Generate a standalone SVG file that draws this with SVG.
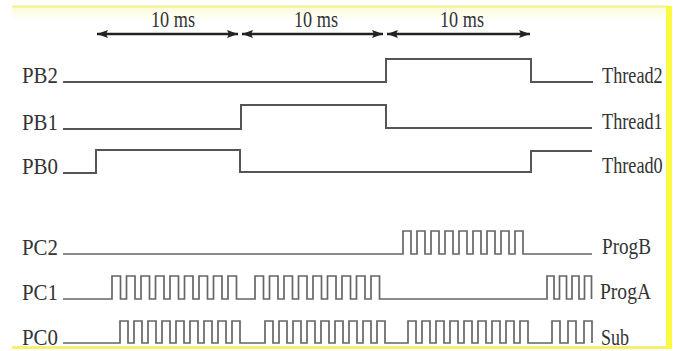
<svg xmlns="http://www.w3.org/2000/svg" width="680" height="351" viewBox="0 0 680 351">
<defs>
<linearGradient id="topband" x1="0" y1="0" x2="0" y2="1">
<stop offset="0" stop-color="#fbfbd8"/>
<stop offset="1" stop-color="#ffffff"/>
</linearGradient>
<marker id="ah" viewBox="0 0 11 8" refX="11" refY="4" markerWidth="11" markerHeight="8" markerUnits="userSpaceOnUse" orient="auto-start-reverse">
<path d="M0,0 L11,4 L0,8 L2,4 Z" fill="#222"/>
</marker>
<style>
.lbl{font-family:"Liberation Serif","Times New Roman",serif;font-size:24px;fill:#333;}
.sig{fill:none;stroke:#555;stroke-width:2;stroke-linejoin:miter;}
.pulse{fill:none;stroke:#666;stroke-width:1.7;stroke-linejoin:miter;}
.arr{stroke:#222;stroke-width:2.4;fill:none;}
</style>
</defs>
<rect width="680" height="351" fill="#ffffff"/>
<rect x="12" y="6" width="656" height="16" fill="url(#topband)"/>
<line x1="12" y1="6.5" x2="668" y2="6.5" stroke="#f3f08a" stroke-width="2"/>
<line x1="12" y1="347.5" x2="672" y2="347.5" stroke="#f5f070" stroke-width="3"/>
<rect x="666" y="6" width="6" height="343" fill="#fafa40"/>

<g id="scale">
<text class="lbl" x="151" y="27" textLength="44" lengthAdjust="spacingAndGlyphs">10 ms</text>
<text class="lbl" x="294" y="27" textLength="44" lengthAdjust="spacingAndGlyphs">10 ms</text>
<text class="lbl" x="440" y="27" textLength="44" lengthAdjust="spacingAndGlyphs">10 ms</text>
</g>

<g id="connectors">
<line class="arr" x1="97" y1="34" x2="238" y2="34" marker-start="url(#ah)" marker-end="url(#ah)"/>
<line class="arr" x1="242" y1="34" x2="383" y2="34" marker-start="url(#ah)" marker-end="url(#ah)"/>
<line class="arr" x1="387" y1="34" x2="530" y2="34" marker-start="url(#ah)" marker-end="url(#ah)"/>
</g>

<g id="PB2">
<text class="lbl" x="22" y="83" textLength="36" lengthAdjust="spacingAndGlyphs">PB2</text>
<path class="sig" d="M63 82 H386 V59 H531 V82 H593"/>
<text class="lbl" transform="translate(602,83) scale(0.76,1)">Thread2</text>
</g>
<g id="PB1">
<text class="lbl" x="22" y="130" textLength="36" lengthAdjust="spacingAndGlyphs">PB1</text>
<path class="sig" d="M63 129 H241 V105 H386 V128 H592"/>
<text class="lbl" transform="translate(602,129) scale(0.76,1)">Thread1</text>
</g>
<g id="PB0">
<text class="lbl" x="22" y="174" textLength="36" lengthAdjust="spacingAndGlyphs">PB0</text>
<path class="sig" d="M63 173 H96 V150 H240 V172 H531 V151 H592"/>
<text class="lbl" transform="translate(602,173) scale(0.76,1)">Thread0</text>
</g>

<g id="PC2">
<text class="lbl" x="22" y="255" textLength="36" lengthAdjust="spacingAndGlyphs">PC2</text>
<path class="pulse" d="M63 254 H403 V231 h8 V254 h6 V231 h8 V254 h6 V231 h8 V254 h6 V231 h8 V254 h6 V231 h8 V254 h6 V231 h8 V254 h6 V231 h8 V254 h6 V231 h8 V254 h6 V231 h8 V254 H592"/>
<text class="lbl" x="602" y="254" textLength="49" lengthAdjust="spacingAndGlyphs">ProgB</text>
</g>
<g id="PC1">
<text class="lbl" x="22" y="300" textLength="36" lengthAdjust="spacingAndGlyphs">PC1</text>
<path class="pulse" d="M63 299 H112 V276 h8.5 V299 h6 V276 h8.5 V299 h6 V276 h8.5 V299 h6 V276 h8.5 V299 h6 V276 h8.5 V299 h6 V276 h8.5 V299 h6 V276 h8.5 V299 h6 V276 h8.5 V299 h6 V276 h8.5 V299 H255 V276 h8.5 V299 h6 V276 h8.5 V299 h6 V276 h8.5 V299 h6 V276 h8.5 V299 h6 V276 h8.5 V299 h6 V276 h8.5 V299 h6 V276 h8.5 V299 h6 V276 h8.5 V299 h6 V276 h8.5 V299 H547 V276 h7 V299 h5.5 V276 h7 V299 h5.5 V276 h7 V299 h5.5 V276 h7 V299"/>
<text class="lbl" x="600" y="299" textLength="51" lengthAdjust="spacingAndGlyphs">ProgA</text>
</g>
<g id="PC0">
<text class="lbl" x="22" y="345" textLength="36" lengthAdjust="spacingAndGlyphs">PC0</text>
<path class="pulse" d="M63 343 H120 V321 h8 V343 h6 V321 h8 V343 h6 V321 h8 V343 h6 V321 h8 V343 h6 V321 h8 V343 h6 V321 h8 V343 h6 V321 h8 V343 h6 V321 h8 V343 h6 V321 h8 V343 H265 V321 h8 V343 h6 V321 h8 V343 h6 V321 h8 V343 h6 V321 h8 V343 h6 V321 h8 V343 h6 V321 h8 V343 h6 V321 h8 V343 h6 V321 h8 V343 h6 V321 h8 V343 H408 V321 h8 V343 h6 V321 h8 V343 h6 V321 h8 V343 h6 V321 h8 V343 h6 V321 h8 V343 h6 V321 h8 V343 h6 V321 h8 V343 h6 V321 h8 V343 h6 V321 h8 V343 H552 V321 h8 V343 h8 V321 h8 V343 h8 V321 h8 V343"/>
<text class="lbl" x="601" y="345" textLength="28" lengthAdjust="spacingAndGlyphs">Sub</text>
</g>
</svg>
